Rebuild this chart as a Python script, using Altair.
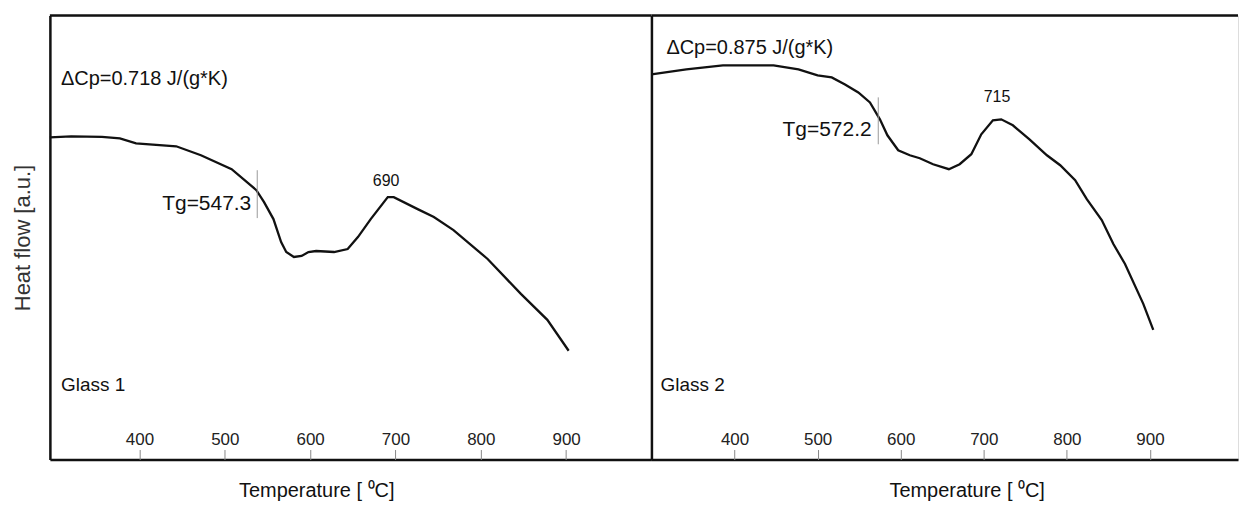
import altair as alt
import pandas as pd

# ---------------- data ----------------
temp1 = [295, 320, 356, 377, 396, 443, 472, 508, 537, 546, 557, 566, 572, 581, 590,
         598, 607, 628, 644, 656, 671, 691, 698, 726, 745, 768, 808, 847, 878, 903]
heat1 = [32.3, 32.4, 32.35, 32.2, 31.7, 31.4, 30.5, 29.1, 27.0, 25.8, 24.1, 21.8, 20.8, 20.3, 20.4,
         20.8, 20.9, 20.8, 21.1, 22.3, 24.1, 26.3, 26.3, 25.1, 24.3, 23.0, 20.1, 16.6, 14.0, 10.9]

temp2 = [300, 342, 386, 447, 477, 500, 517, 533, 549, 563, 575, 584, 597, 611, 623, 639, 658,
         671, 685, 697, 711, 721, 735, 755, 776, 792, 810, 824, 842, 856, 870, 892, 904]
heat2 = [38.6, 39.1, 39.5, 39.5, 39.1, 38.5, 38.3, 37.6, 36.8, 35.8, 34.1, 32.5, 31.0, 30.5, 30.2, 29.6, 29.1,
         29.6, 30.6, 32.6, 34.0, 34.1, 33.5, 32.1, 30.5, 29.5, 28.0, 26.1, 24.0, 21.6, 19.6, 15.6, 13.0]

tick_values = [400, 500, 600, 700, 800, 900]
x_domain1 = [295, 1000]
x_domain2 = [300, 1006]
y_domain = [0, 44.5]

# annotations: (text, T, heat, align, size)
ann1 = [("\u0394Cp=0.718 J/(g*K)", 308, 38.1, "left", 20),
        ("Tg=547.3", 531, 25.6, "right", 21),
        ("690", 689, 27.9, "center", 16),
        ("Glass 1", 308, 7.5, "left", 19)]
tg1 = {"x": [538], "y1": [29.0], "y2": [24.2]}

ann2 = [("\u0394Cp=0.875 J/(g*K)", 318, 41.2, "left", 20),
        ("Tg=572.2", 565, 33.0, "right", 21),
        ("715", 716, 36.3, "center", 16),
        ("Glass 2", 311, 7.5, "left", 19)]
tg2 = {"x": [573], "y1": [36.3], "y2": [31.6]}

FONT = "Liberation Sans, Arial, sans-serif"
H = 445
INK = "#111111"


def make_panel(temps, heats, xdom, W, title_x, ann, tg, ytitle=None):
    xs = alt.Scale(domain=xdom, nice=False, zero=False)
    ys = alt.Scale(domain=y_domain, nice=False, zero=False)

    yaxis_kw = dict(labels=False, ticks=False, grid=False, domain=True,
                    domainColor=INK, domainWidth=2.5)
    if ytitle:
        yaxis_kw.update(title=ytitle, titleFont=FONT, titleFontSize=22,
                        titleFontWeight="normal", titleColor="#333333", titlePadding=15)
    else:
        yaxis_kw.update(title=None)

    df = pd.DataFrame({"T": temps, "H": heats})
    line = alt.Chart(df).mark_line(color=INK, strokeWidth=2.3).encode(
        x=alt.X("T:Q", scale=xs,
                axis=alt.Axis(orient="bottom", title="Temperature [ \u2070C]", labels=False,
                              ticks=False, grid=False, domain=True, domainColor=INK,
                              domainWidth=2.5, titleFont=FONT, titleFontSize=20,
                              titleFontWeight="normal", titleColor=INK, titlePadding=21,
                              titleX=title_x)),
        y=alt.Y("H:Q", scale=ys, axis=alt.Axis(**yaxis_kw)),
    )

    tdf = pd.DataFrame({"T": tick_values})
    ticks = alt.Chart(tdf).mark_point(opacity=0).encode(
        x=alt.X("T:Q", scale=xs,
                axis=alt.Axis(orient="top", offset=-H, values=tick_values, format="d",
                              ticks=True, tickSize=10, tickColor="#888888", tickWidth=1,
                              labels=True, labelPadding=1, labelFont=FONT, labelFontSize=17,
                              labelColor="#222222", domain=False, grid=False, title=None)),
    )

    tgdf = pd.DataFrame(tg)
    tgrule = alt.Chart(tgdf).mark_rule(color="#999999", strokeWidth=1).encode(
        x=alt.X("x:Q", scale=xs, axis=None),
        y=alt.Y("y1:Q", scale=ys, axis=None),
        y2="y2:Q",
    )

    texts = []
    for label, t, h, align, size in ann:
        adf = pd.DataFrame({"T": [t], "H": [h], "label": [label]})
        texts.append(
            alt.Chart(adf).mark_text(align=align, baseline="middle", font=FONT,
                                     fontSize=size, color=INK).encode(
                x=alt.X("T:Q", scale=xs, axis=None),
                y=alt.Y("H:Q", scale=ys, axis=None),
                text="label:N",
            )
        )

    border = alt.Chart(pd.DataFrame({"a": [0]})).mark_rule(color=INK, strokeWidth=2.5).encode(
        y=alt.value(0), x=alt.value(0), x2=alt.value(W)
    )

    return alt.layer(line, ticks, tgrule, *texts, border).resolve_axis(
        x="independent", y="independent").properties(width=W, height=H)


p1 = make_panel(temp1, heat1, x_domain1, 603, 267, ann1, tg1, ytitle="Heat flow [a.u.]")
p2 = make_panel(temp2, heat2, x_domain2, 588, 316, ann2, tg2)

chart = alt.hconcat(p1, p2, spacing=0, bounds="flush").properties(
    padding={"left": 3, "top": 5, "right": 0, "bottom": 0}
).configure_view(strokeWidth=0, stroke="transparent").configure(background="white")

chart.save("out.html", embed_options={"renderer": "svg", "actions": False})
